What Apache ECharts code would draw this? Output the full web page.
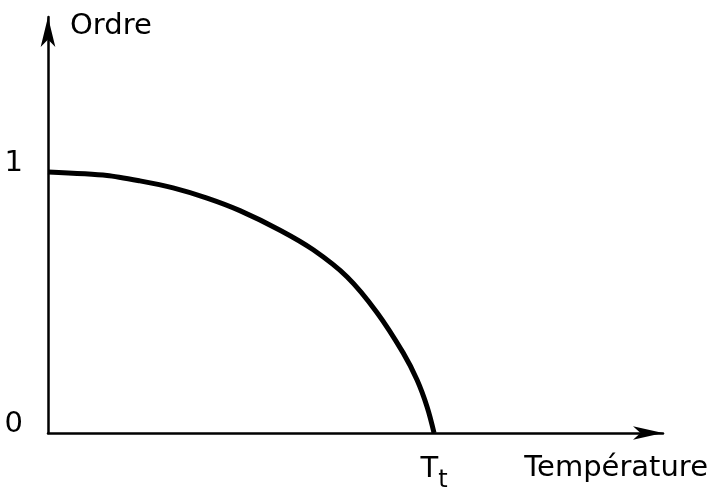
<!DOCTYPE html>
<html>
<head>
<meta charset="utf-8">
<script src="https://cdn.jsdelivr.net/npm/echarts@6/dist/echarts.min.js"></script>
<style>
  html, body { margin: 0; padding: 0; background: #fff; }
  #chart { width: 715px; height: 491px; }
</style>
</head>
<body>
<div id="chart"></div>
<script>
// temperature as a fraction of T_t, order parameter
const temperature = [0, 0.153, 0.238, 0.324, 0.412, 0.497, 0.601, 0.687, 0.775, 0.852, 0.920, 0.956, 0.982, 1.0];
const ordre = [1.0, 0.987, 0.966, 0.939, 0.900, 0.852, 0.777, 0.702, 0.598, 0.462, 0.307, 0.203, 0.100, 0.0];
const yTickLabels = { 0: '0', 1: '1' };
const xTickLabels = { 1: '{t|T}{s|t}' };

const font = '"DejaVu Sans", sans-serif';
const chart = echarts.init(document.getElementById('chart'), null, { renderer: 'canvas' });

const option = {
  backgroundColor: '#fff',
  animation: false,
  grid: { left: 48, right: 52, top: 17, bottom: 58, containLabel: false, outerBoundsMode: 'none' },
  xAxis: {
    type: 'value',
    min: 0,
    max: 1.593,
    interval: 0.5,
    splitLine: { show: false },
    axisTick: { show: false },
    axisLine: {
      symbol: ['none', 'arrow'],
      symbolSize: [10, 30],
      lineStyle: { color: '#000', width: 2.5 }
    },
    axisLabel: {
      margin: 12,
      formatter: v => xTickLabels[v] || '',
      rich: {
        t: { fontFamily: font, fontSize: 29, color: '#000' },
        s: { fontFamily: font, fontSize: 24, color: '#000', padding: [24, 0, 0, 0] }
      }
    },
    name: 'Température',
    nameLocation: 'end',
    nameGap: 45,
    nameTextStyle: {
      fontFamily: font, fontSize: 29, color: '#000',
      align: 'right', verticalAlign: 'top', padding: [21, 0, 0, 0]
    }
  },
  yAxis: {
    type: 'value',
    min: 0,
    max: 1.594,
    interval: 0.5,
    splitLine: { show: false },
    axisTick: { show: false },
    axisLine: {
      symbol: ['none', 'arrow'],
      symbolSize: [11, 30],
      lineStyle: { color: '#000', width: 2.5 }
    },
    axisLabel: {
      margin: 25,
      fontFamily: font, fontSize: 29, color: '#000',
      verticalAlign: 'bottom',
      lineHeight: 17,
      formatter: v => yTickLabels[v] || ''
    },
    name: 'Ordre',
    nameLocation: 'end',
    nameGap: -9,
    nameTextStyle: {
      fontFamily: font, fontSize: 29, color: '#000',
      align: 'left', verticalAlign: 'middle', padding: [0, 0, 0, 22]
    }
  },
  series: [
    {
      type: 'line',
      data: temperature.map((t, i) => [t, ordre[i]]),
      smooth: 0.25,
      symbol: 'none',
      lineStyle: { color: '#000', width: 5, join: 'round' }
    }
  ]
};

chart.setOption(option);
</script>
</body>
</html>
